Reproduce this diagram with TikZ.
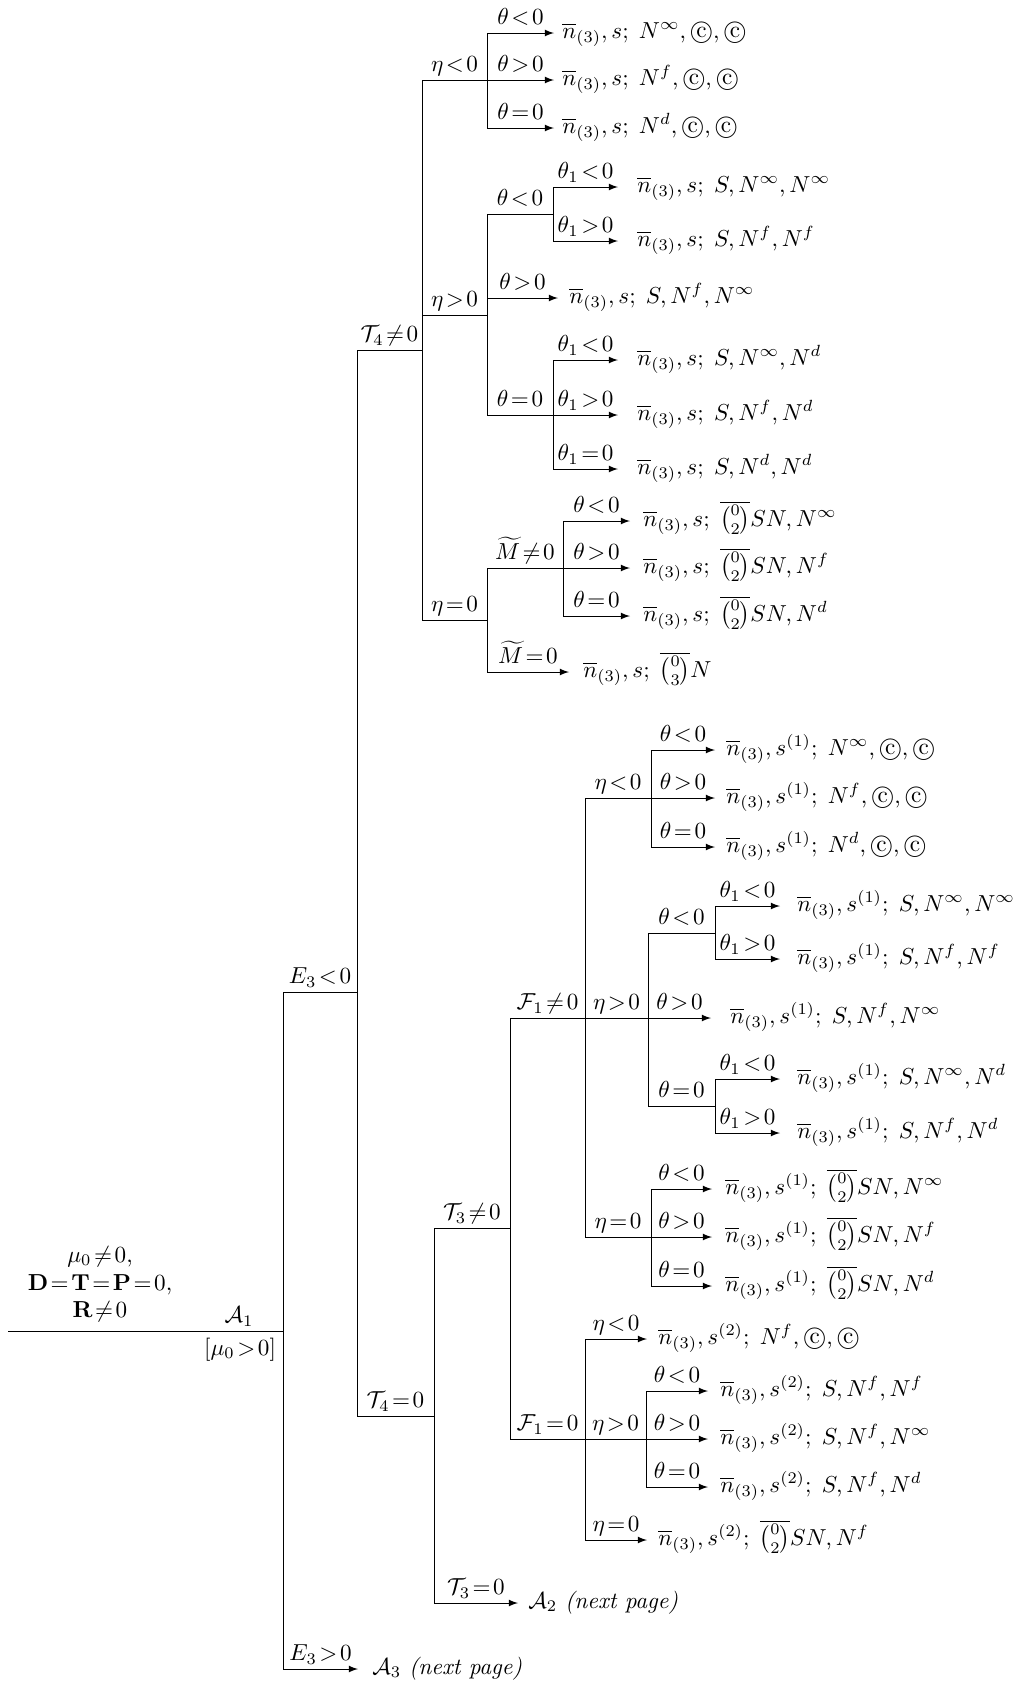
\documentclass[tikz,border=0pt]{standalone}
\usepackage[intlimits]{amsmath}
\usepackage{amsfonts}
\usepackage{amssymb}
\usepackage{tikz}

\newcommand{\circc}{\text{\ooalign{\hfil\raise.07ex\hbox{c}\hfil\crcr$\bigcirc$}}}

\tikzset{
  lbl/.style={anchor=base, yshift=3.5pt, inner sep=0pt},
  leaf/.style={anchor=base west, yshift=-2.2pt, inner sep=0pt},
  >=latex
}

\begin{document}
\begin{tikzpicture}[x=0.0152cm, y=-0.0152cm]

    \useasboundingbox (0,0) rectangle (1033,1684);

    \coordinate (r0) at (8,1331);
    \coordinate (r1) at (283,1331);
    \coordinate (e3neg) at (357,992);
    \coordinate (e3pos) at (358,1669);
    \coordinate (t4nz) at (422,350);
    \coordinate (t4z) at (434,1416);

    \draw (r0) -- (r1);
    \node[anchor=south, inner sep=1pt] (hyp) at (100,1329) {$\begin{array}{c}\mu_0\!\neq\!0,\\ \mathbf{D}\!=\!\mathbf{T}\!=\!\mathbf{P}\!=\!0,\\ \mathbf{R}\!\neq\!0\end{array}$};
    \node[lbl] (A1) at (239,1331) {$\mathcal{A}_1$};
    \node[anchor=base, inner sep=0pt] (mu) at (240,1355) {$[\mu_0\!>\!0]$};

    \draw (r1) |- (e3neg) node[lbl, pos=0.75] (lE3n) {$E_3\!<\!0$};
    \draw[->] (r1) |- (e3pos) node[lbl, pos=0.75] (lE3p) {$E_3\!>\!0$};
    \node[leaf] (A3) at (372,1669) {$\mathcal{A}_3$ \textit{(next page)}};

    \draw (e3neg) |- (t4nz) node[lbl, pos=0.75] (lT4n) {$\mathcal{T}_4\!\neq\!0$};
    \draw (e3neg) |- (t4z) node[lbl, pos=0.75] (lT4z) {$\mathcal{T}_4\!=\!0$};



    \coordinate (u1) at (487,80);
    \coordinate (u2) at (487,315);
    \coordinate (u3) at (487,620);

    \draw (t4nz) |- (u1) node[lbl, pos=0.75] (lu1) {$\eta\!<\!0$};
    \draw (t4nz) |- (u2) node[lbl, pos=0.75] (lu2) {$\eta\!>\!0$};
    \draw (t4nz) |- (u3) node[lbl, pos=0.75] (lu3) {$\eta\!=\!0$};



    \coordinate (up1e) at (554,33);
    \coordinate (up2e) at (554,80);
    \coordinate (up3e) at (554,128);

    \draw[->] (u1) |- (up1e) node[lbl, pos=0.75] (lup1) {$\theta\!<\!0$};
    \draw[->] (u1) |- (up2e) node[lbl, pos=0.75] (lup2) {$\theta\!>\!0$};
    \draw[->] (u1) |- (up3e) node[lbl, pos=0.75] (lup3) {$\theta\!=\!0$};

    \node[leaf] (up1) at (562,33) {$\overline{n}_{(3)}, s;\; N^{\infty}, \circc, \circc$};
    \node[leaf] (up2) at (562,80) {$\overline{n}_{(3)}, s;\; N^{f}, \circc, \circc$};
    \node[leaf] (up3) at (562,128) {$\overline{n}_{(3)}, s;\; N^{d}, \circc, \circc$};



    \coordinate (u21) at (553,214);
    \coordinate (u23) at (553,415);
    \coordinate (up6e) at (558,298);

    \draw (u2) |- (u21) node[lbl, pos=0.75] (lu21) {$\theta\!<\!0$};
    \draw[->] (u2) |- (up6e) node[lbl, pos=0.75] (lup6) {$\theta\!>\!0$};
    \draw (u2) |- (u23) node[lbl, pos=0.75] (lu23) {$\theta\!=\!0$};

    \node[leaf] (up6) at (569,298) {$\overline{n}_{(3)}, s;\; S, N^{f}, N^{\infty}$};



    \coordinate (up4e) at (618,187);
    \coordinate (up5e) at (618,241);

    \draw[->] (u21) |- (up4e) node[lbl, pos=0.75] (lup4) {$\theta_1\!<\!0$};
    \draw[->] (u21) |- (up5e) node[lbl, pos=0.75] (lup5) {$\theta_1\!>\!0$};

    \node[leaf] (up4) at (637,187) {$\overline{n}_{(3)}, s;\; S, N^{\infty}, N^{\infty}$};
    \node[leaf] (up5) at (637,241) {$\overline{n}_{(3)}, s;\; S, N^{f}, N^{f}$};



    \coordinate (up7e) at (618,360);
    \coordinate (up8e) at (618,415);
    \coordinate (up9e) at (618,469);

    \draw[->] (u23) |- (up7e) node[lbl, pos=0.75] (lup7) {$\theta_1\!<\!0$};
    \draw[->] (u23) |- (up8e) node[lbl, pos=0.75] (lup8) {$\theta_1\!>\!0$};
    \draw[->] (u23) |- (up9e) node[lbl, pos=0.75] (lup9) {$\theta_1\!=\!0$};

    \node[leaf] (up7) at (637,360) {$\overline{n}_{(3)}, s;\; S, N^{\infty}, N^{d}$};
    \node[leaf] (up8) at (637,415) {$\overline{n}_{(3)}, s;\; S, N^{f}, N^{d}$};
    \node[leaf] (up9) at (637,469) {$\overline{n}_{(3)}, s;\; S, N^{d}, N^{d}$};



    \coordinate (u31) at (563,568);
    \coordinate (up13e) at (569,672);

    \draw (u3) |- (u31) node[lbl, pos=0.75] (lu31) {$\widetilde{M}\!\neq\!0$};
    \draw[->] (u3) |- (up13e) node[lbl, pos=0.75] (lup13) {$\widetilde{M}\!=\!0$};

    \node[leaf] (up13) at (583,672) {$\overline{n}_{(3)}, s;\; \overline{\tbinom{0}{3}}N$};

    \coordinate (up10e) at (630,521);
    \coordinate (up11e) at (630,568);
    \coordinate (up12e) at (630,616);

    \draw[->] (u31) |- (up10e) node[lbl, pos=0.75] (lup10) {$\theta\!<\!0$};
    \draw[->] (u31) |- (up11e) node[lbl, pos=0.75] (lup11) {$\theta\!>\!0$};
    \draw[->] (u31) |- (up12e) node[lbl, pos=0.75] (lup12) {$\theta\!=\!0$};

    \node[leaf] (up10) at (643,521) {$\overline{n}_{(3)}, s;\; \overline{\tbinom{0}{2}}SN, N^{\infty}$};
    \node[leaf] (up11) at (643,568) {$\overline{n}_{(3)}, s;\; \overline{\tbinom{0}{2}}SN, N^{f}$};
    \node[leaf] (up12) at (643,616) {$\overline{n}_{(3)}, s;\; \overline{\tbinom{0}{2}}SN, N^{d}$};



    \coordinate (t3nz) at (510,1228);
    \coordinate (t3z) at (518,1603);

    \draw (t4z) |- (t3nz) node[lbl, pos=0.75] (lT3n) {$\mathcal{T}_3\!\neq\!0$};
    \draw[->] (t4z) |- (t3z) node[lbl, pos=0.75] (lT3z) {$\mathcal{T}_3\!=\!0$};
    \node[leaf] (A2) at (528,1603) {$\mathcal{A}_2$ \textit{(next page)}};

    \coordinate (f1nz) at (585,1018);
    \coordinate (f1z) at (585,1439);

    \draw (t3nz) |- (f1nz) node[lbl, pos=0.75] (lF1n) {$\mathcal{F}_1\!\neq\!0$};
    \draw (t3nz) |- (f1z) node[lbl, pos=0.75] (lF1z) {$\mathcal{F}_1\!=\!0$};



    \coordinate (v1) at (651,798);
    \coordinate (v2) at (648,1018);
    \coordinate (v3) at (651,1237);

    \draw (f1nz) |- (v1) node[lbl, pos=0.75] (lv1) {$\eta\!<\!0$};
    \draw (f1nz) |- (v2) node[lbl, pos=0.75] (lv2) {$\eta\!>\!0$};
    \draw (f1nz) |- (v3) node[lbl, pos=0.75] (lv3) {$\eta\!=\!0$};



    \coordinate (lo1e) at (715,750);
    \coordinate (lo2e) at (715,798);
    \coordinate (lo3e) at (715,847);

    \draw[->] (v1) |- (lo1e) node[lbl, pos=0.75] (llo1) {$\theta\!<\!0$};
    \draw[->] (v1) |- (lo2e) node[lbl, pos=0.75] (llo2) {$\theta\!>\!0$};
    \draw[->] (v1) |- (lo3e) node[lbl, pos=0.75] (llo3) {$\theta\!=\!0$};

    \node[leaf] (lo1) at (726,750) {$\overline{n}_{(3)}, s^{(1)};\; N^{\infty}, \circc, \circc$};
    \node[leaf] (lo2) at (726,798) {$\overline{n}_{(3)}, s^{(1)};\; N^{f}, \circc, \circc$};
    \node[leaf] (lo3) at (726,847) {$\overline{n}_{(3)}, s^{(1)};\; N^{d}, \circc, \circc$};



    \coordinate (v21) at (715,933);
    \coordinate (v23) at (715,1106);
    \coordinate (lo6e) at (711,1018);

    \draw (v2) |- (v21) node[lbl, pos=0.75] (lv21) {$\theta\!<\!0$};
    \draw[->] (v2) |- (lo6e) node[lbl, pos=0.75] (llo6) {$\theta\!>\!0$};
    \draw (v2) |- (v23) node[lbl, pos=0.75] (lv23) {$\theta\!=\!0$};

    \node[leaf] (lo6) at (730,1018) {$\overline{n}_{(3)}, s^{(1)};\; S, N^{f}, N^{\infty}$};

    \coordinate (lo4e) at (780,906);
    \coordinate (lo5e) at (780,959);
    \coordinate (lo7e) at (780,1079);
    \coordinate (lo8e) at (780,1133);

    \draw[->] (v21) |- (lo4e) node[lbl, pos=0.75] (llo4) {$\theta_1\!<\!0$};
    \draw[->] (v21) |- (lo5e) node[lbl, pos=0.75] (llo5) {$\theta_1\!>\!0$};
    \draw[->] (v23) |- (lo7e) node[lbl, pos=0.75] (llo7) {$\theta_1\!<\!0$};
    \draw[->] (v23) |- (lo8e) node[lbl, pos=0.75] (llo8) {$\theta_1\!>\!0$};

    \node[leaf] (lo4) at (797,906) {$\overline{n}_{(3)}, s^{(1)};\; S, N^{\infty}, N^{\infty}$};
    \node[leaf] (lo5) at (797,959) {$\overline{n}_{(3)}, s^{(1)};\; S, N^{f}, N^{f}$};
    \node[leaf] (lo7) at (797,1079) {$\overline{n}_{(3)}, s^{(1)};\; S, N^{\infty}, N^{d}$};
    \node[leaf] (lo8) at (797,1133) {$\overline{n}_{(3)}, s^{(1)};\; S, N^{f}, N^{d}$};



    \coordinate (lo9e) at (712,1189);
    \coordinate (lo10e) at (712,1237);
    \coordinate (lo11e) at (712,1286);

    \draw[->] (v3) |- (lo9e) node[lbl, pos=0.75] (llo9) {$\theta\!<\!0$};
    \draw[->] (v3) |- (lo10e) node[lbl, pos=0.75] (llo10) {$\theta\!>\!0$};
    \draw[->] (v3) |- (lo11e) node[lbl, pos=0.75] (llo11) {$\theta\!=\!0$};

    \node[leaf] (lo9) at (725,1189) {$\overline{n}_{(3)}, s^{(1)};\; \overline{\tbinom{0}{2}}SN, N^{\infty}$};
    \node[leaf] (lo10) at (725,1237) {$\overline{n}_{(3)}, s^{(1)};\; \overline{\tbinom{0}{2}}SN, N^{f}$};
    \node[leaf] (lo11) at (725,1286) {$\overline{n}_{(3)}, s^{(1)};\; \overline{\tbinom{0}{2}}SN, N^{d}$};



    \coordinate (fz1e) at (647,1339);
    \coordinate (w2) at (646,1439);
    \coordinate (fz5e) at (647,1540);

    \draw[->] (f1z) |- (fz1e) node[lbl, pos=0.75] (lfz1) {$\eta\!<\!0$};
    \draw (f1z) |- (w2) node[lbl, pos=0.75] (lw2) {$\eta\!>\!0$};
    \draw[->] (f1z) |- (fz5e) node[lbl, pos=0.75] (lfz5) {$\eta\!=\!0$};

    \node[leaf] (fz1) at (658,1339) {$\overline{n}_{(3)}, s^{(2)};\; N^{f}, \circc, \circc$};
    \node[leaf] (fz5) at (658,1540) {$\overline{n}_{(3)}, s^{(2)};\; \overline{\tbinom{0}{2}}SN, N^{f}$};

    \coordinate (fz2e) at (708,1391);
    \coordinate (fz3e) at (708,1439);
    \coordinate (fz4e) at (708,1487);

    \draw[->] (w2) |- (fz2e) node[lbl, pos=0.75] (lfz2) {$\theta\!<\!0$};
    \draw[->] (w2) |- (fz3e) node[lbl, pos=0.75] (lfz3) {$\theta\!>\!0$};
    \draw[->] (w2) |- (fz4e) node[lbl, pos=0.75] (lfz4) {$\theta\!=\!0$};

    \node[leaf] (fz2) at (720,1391) {$\overline{n}_{(3)}, s^{(2)};\; S, N^{f}, N^{f}$};
    \node[leaf] (fz3) at (720,1439) {$\overline{n}_{(3)}, s^{(2)};\; S, N^{f}, N^{\infty}$};
    \node[leaf] (fz4) at (720,1487) {$\overline{n}_{(3)}, s^{(2)};\; S, N^{f}, N^{d}$};

  \end{tikzpicture}
\end{document}
